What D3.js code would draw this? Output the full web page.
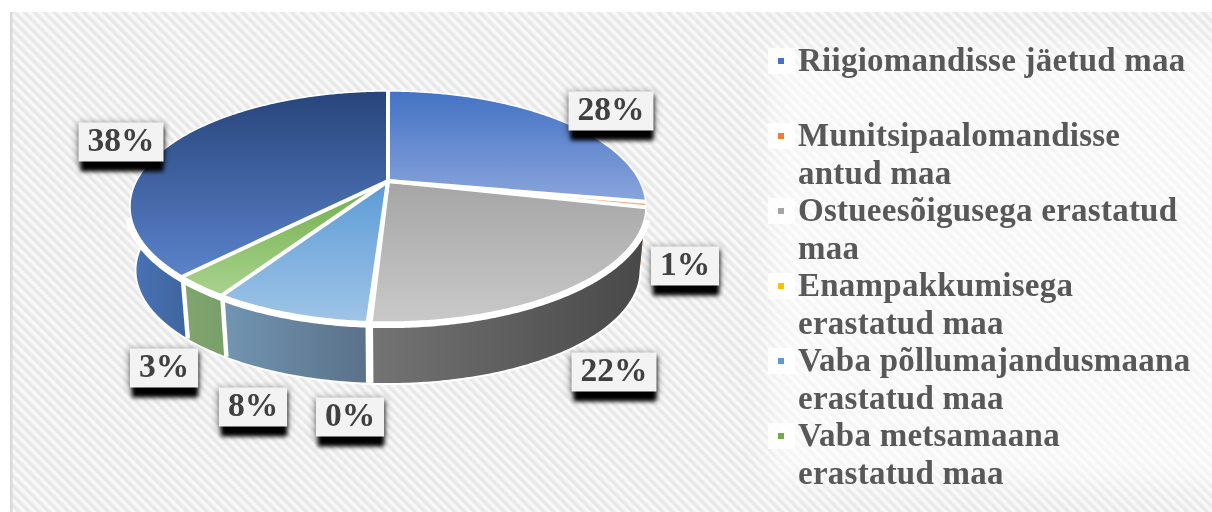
<!DOCTYPE html>
<html>
<head>
<meta charset="utf-8">
<script src="https://d3js.org/d3.v7.min.js"></script>
<style>
  html, body { margin: 0; padding: 0; background: #fff; overflow: hidden; }
  text { font-family: "Liberation Serif", serif; font-weight: bold; }
</style>
</head>
<body>
<script>
const w = 1212;
const h = 512;

// data
const categories = [
    "Riigiomandisse jäetud maa",
    "Munitsipaalomandisse\nantud maa",
    "Ostueesõigusega erastatud\nmaa",
    "Enampakkumisega\nerastatud maa",
    "Vaba põllumajandusmaana\nerastatud maa",
    "Vaba metsamaana\nerastatud maa"
];
const sliceValues = [27.9, 0.75, 22.2, 0.15, 8, 3, 38];

// colours
const legendColors = ["#4472c4", "#ed7d31", "#a5a5a5", "#ffc000", "#5b9bd5", "#70ad47"];
const topColors = [
    ["#4472c4", "#8aa5dc"], ["#ed7d31", "#f4b183"], ["#a5a5a5", "#c9c9c9"], ["#ffc000", "#ffd966"],
    ["#5b9bd5", "#9fc4e7"], ["#70ad47", "#a9d38f"], ["#27457b", "#5b82cb"]
];
const sideColors = [
    ["#2f5597", "#2f5597"], ["#ed7d31", "#c55a11"], ["#747474", "#484848"], ["#ffc000", "#bf9000"],
    ["#7295b2", "#5a7189"], ["#80a670", "#7a9e68"], ["#4a73b6", "#3f659f"]
];

// label box centres, one per slice
const labelX = [611, 685, 614, 350, 253, 164, 121];
const labelY = [111, 266, 372, 417, 407, 368, 142];

// pie geometry: tilted disc seen in perspective
const cx = 388, cy = 181;
const radiusX = 251.6, radiusY = 109.9, persp = 0.221;
const depth = 64.5, bottomScale = 0.975;

const project = (theta, r, bottom) => {
    const u = Math.sin(theta) * r;
    const v = -Math.cos(theta) * r;
    const d = 1 - persp * v;
    const s = bottom ? bottomScale : 1;
    return [cx + s * radiusX * u / d, cy + (bottom ? depth : 0) + s * radiusY * v / d];
};

const arcPoints = (a0, a1, bottom) => {
    const n = Math.max(2, Math.ceil((a1 - a0) / 0.01));
    return d3.range(n + 1).map(i => project(a0 + (a1 - a0) * i / n, 1, bottom));
};

const line = d3.line();

const svg = d3.select("body").append("svg")
    .attr("width", w)
    .attr("height", h)
    .style("display", "block");

const defs = svg.append("defs");

const stripes = defs.append("pattern")
    .attr("id", "stripes")
    .attr("patternUnits", "userSpaceOnUse")
    .attr("width", 7)
    .attr("height", 7)
    .attr("patternTransform", "rotate(-45)");
stripes.append("rect").attr("width", 7).attr("height", 7).attr("fill", "#f8f8f8");
stripes.append("rect").attr("width", 3.5).attr("height", 7).attr("fill", "#e8e8e8");

const addBlur = (id, dev) => defs.append("filter")
    .attr("id", id)
    .attr("x", "-20%").attr("y", "-20%").attr("width", "140%").attr("height", "140%")
    .append("feGaussianBlur").attr("stdDeviation", dev);
addBlur("soft", 0.6);
addBlur("shadow", 2.2);
addBlur("glow", 3.5);
addBlur("haze", 14);

const addGradient = (id, colors, x1, y1, x2, y2) => {
    const g = defs.append("linearGradient")
        .attr("id", id)
        .attr("gradientUnits", "userSpaceOnUse")
        .attr("x1", x1).attr("y1", y1).attr("x2", x2).attr("y2", y2);
    g.append("stop").attr("offset", 0).attr("stop-color", colors[0]);
    g.append("stop").attr("offset", 1).attr("stop-color", colors[1]);
};

// background
svg.append("rect").attr("x", 10).attr("y", 12).attr("width", w - 10).attr("height", h - 12)
    .attr("fill", "url(#stripes)").attr("filter", "url(#soft)");
svg.append("rect").attr("x", 0).attr("y", 0).attr("width", w).attr("height", 12).attr("fill", "#fff");
svg.append("rect").attr("x", 0).attr("y", 0).attr("width", 10).attr("height", h).attr("fill", "#fff");
svg.append("rect").attr("x", 10).attr("y", 12).attr("width", 2.5).attr("height", h - 12).attr("fill", "#d9d9d9");

const slices = d3.pie().sort(null).value(d => d).startAngle(0).endAngle(2 * Math.PI)(sliceValues);
const frontFrom = Math.PI / 2, frontTo = 3 * Math.PI / 2;

// faint white edge under the bottom rim
svg.append("path")
    .attr("d", line(arcPoints(frontFrom, frontTo, true)))
    .attr("fill", "none")
    .attr("stroke", "#fff")
    .attr("stroke-width", 4);

// side walls first, the top faces then hide the back of them
const walls = svg.append("g");
slices.forEach((d, i) => {
    const a0 = Math.max(d.startAngle, frontFrom);
    const a1 = Math.min(d.endAngle, frontTo);
    if (a1 <= a0) return;
    const upper = arcPoints(a0, a1, false);
    const lower = arcPoints(a0, a1, true).reverse();
    const xs = upper.concat(lower).map(p => p[0]);
    addGradient("side" + i, sideColors[i], d3.min(xs), 0, d3.max(xs), 0);
    walls.append("path")
        .attr("d", line(upper.concat(lower)) + "Z")
        .attr("fill", `url(#side${i})`);
});

// white gaps between the walls, only where a wall faces us
slices.forEach(d => {
    if (d.endAngle <= 2.2 || d.endAngle >= 4.2) return;
    walls.append("path")
        .attr("d", line([project(d.endAngle, 1, false), project(d.endAngle, 1, true)]))
        .attr("stroke", "#fff")
        .attr("stroke-width", 4.5);
});

walls.append("path")
    .attr("d", line(arcPoints(1.9, 4.4, false)))
    .attr("fill", "none")
    .attr("stroke", "#fff")
    .attr("stroke-width", 12);

// top faces, then the white spokes and a thin rim over them
const faces = svg.append("g");
slices.forEach((d, i) => {
    const rim = arcPoints(d.startAngle, d.endAngle, false);
    const ys = rim.map(p => p[1]).concat([cy]);
    addGradient("top" + i, topColors[i], 0, d3.min(ys), 0, d3.max(ys));
    faces.append("path")
        .attr("d", line([[cx, cy]].concat(rim)) + "Z")
        .attr("fill", `url(#top${i})`);
});
slices.forEach(d => {
    faces.append("path")
        .attr("d", line([[cx, cy], project(d.endAngle, 1, false)]))
        .attr("stroke", "#fff")
        .attr("stroke-width", 4);
});
faces.append("path")
    .attr("d", line(arcPoints(0, 2 * Math.PI, false)))
    .attr("fill", "none")
    .attr("stroke", "#fff")
    .attr("stroke-width", 1.5);

// data labels
const labels = svg.append("g");
sliceValues.forEach((v, i) => {
    const txt = Math.round(v) + "%";
    const g = labels.append("g").attr("transform", `translate(${labelX[i]},${labelY[i]})`);
    const glow = g.append("rect");
    const shadow = g.append("rect");
    const box = g.append("rect");
    const t = g.append("text")
        .attr("text-anchor", "middle")
        .attr("y", 8.5)
        .attr("font-size", 33.5)
        .attr("fill", "#404040")
        .attr("filter", "url(#soft)")
        .text(txt);
    const bw = t.node().getComputedTextLength() + 18;
    glow.attr("x", -bw / 2 - 1).attr("y", -19).attr("width", bw + 2).attr("height", 42)
        .attr("fill", "#000").attr("opacity", 0.4).attr("filter", "url(#glow)");
    shadow.attr("x", -bw / 2 + 2).attr("y", -15).attr("width", bw - 2).attr("height", 44.5)
        .attr("fill", "#000").attr("filter", "url(#shadow)");
    box.attr("x", -bw / 2).attr("y", -19.5).attr("width", bw).attr("height", 39)
        .attr("fill", "#f3f3f3");
});

// legend
svg.append("rect").attr("x", 770).attr("y", 45).attr("width", 470).attr("height", 440)
    .attr("fill", "#fff").attr("opacity", 0.6).attr("filter", "url(#haze)");

const legendY = d3.scalePoint().domain(categories).range([71, 446]);
const legend = svg.append("g");
categories.forEach((c, i) => {
    const y = legendY(c);
    legend.append("rect").attr("x", 768).attr("y", y - 23).attr("width", 27).attr("height", 26)
        .attr("fill", "#fff").attr("opacity", 0.85);
    legend.append("rect").attr("x", 778).attr("y", y - 13).attr("width", 6).attr("height", 6)
        .attr("fill", legendColors[i]);
    c.split("\n").forEach((part, j) => {
        legend.append("text")
            .attr("x", 798)
            .attr("y", y + j * 38)
            .attr("font-size", 33)
            .attr("letter-spacing", 0.25)
            .attr("fill", "#595959")
            .attr("filter", "url(#soft)")
            .text(part);
    });
});
</script>
</body>
</html>
